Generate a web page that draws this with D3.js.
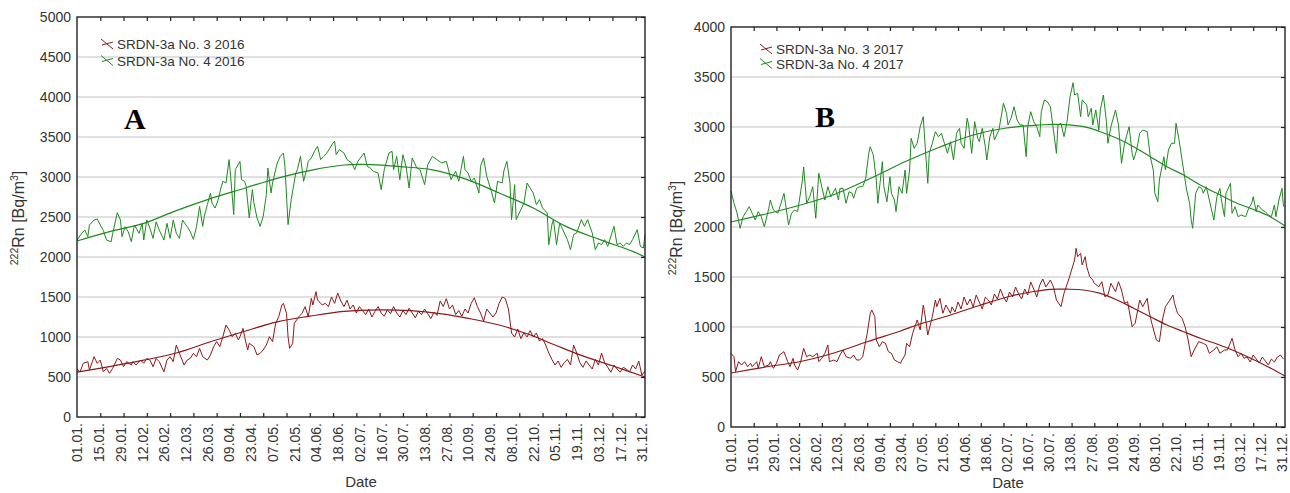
<!DOCTYPE html>
<html><head><meta charset="utf-8">
<script src="https://cdn.jsdelivr.net/npm/d3@7"></script>
<style>
body{margin:0;background:#fff;}
svg{display:block;font-family:"Liberation Sans",Arial,sans-serif;}
</style></head>
<body><svg id="c" width="1290" height="493"></svg>
<script>
// ---------- data ----------
const tickLabels = ["01.01.","15.01.","29.01.","12.02.","26.02.","12.03.","26.03.","09.04.","23.04.","07.05.","21.05.","04.06.","18.06.","02.07.","16.07.","30.07.","13.08.","27.08.","10.09.","24.09.","08.10.","22.10.","05.11.","19.11.","03.12.","17.12.","31.12."];
const tickDays = tickLabels.map((_, i) => i * 14);
const yTicksA = [0,500,1000,1500,2000,2500,3000,3500,4000,4500,5000];
const yTicksB = [0,500,1000,1500,2000,2500,3000,3500,4000];
const seriesNamesA = ["SRDN-3a No. 3 2016", "SRDN-3a No. 4 2016"];
const seriesNamesB = ["SRDN-3a No. 3 2017", "SRDN-3a No. 4 2017"];

// [day of year, Bq/m3]
const no3_2016 = [[0,600],[2,565],[4,671],[7,692],[8,587],[11,754],[13,671],[15,712],[17,565],[19,608],[21,546],[23,608],[26,733],[28,712],[30,629],[32,692],[35,650],[36,692],[38,650],[41,712],[43,671],[45,733],[47,712],[49,629],[51,733],[53,692],[56,565],[58,712],[60,754],[62,692],[64,900],[66,796],[69,650],[71,712],[73,733],[75,796],[77,754],[79,858],[81,754],[84,712],[86,775],[88,879],[90,942],[92,879],[94,1004],[96,1150],[98,1088],[100,1004],[102,1046],[104,963],[105,1004],[107,1108],[108,1004],[110,838],[111,921],[114,879],[116,775],[118,796],[120,838],[122,900],[124,1004],[126,942],[128,1171],[130,1254],[132,1400],[133,1421],[135,1296],[136,1004],[137,858],[139,921],[140,1171],[143,1254],[145,1296],[147,1379],[149,1254],[151,1483],[152,1400],[154,1567],[155,1463],[158,1400],[160,1421],[162,1379],[164,1500],[166,1420],[168,1550],[170,1450],[172,1380],[174,1460],[176,1350],[178,1400],[180,1300],[182,1380],[184,1330],[186,1280],[188,1350],[190,1250],[192,1320],[194,1380],[196,1300],[198,1260],[200,1340],[202,1290],[204,1380],[206,1300],[208,1250],[210,1330],[212,1280],[214,1360],[216,1300],[218,1240],[220,1320],[222,1280],[224,1350],[226,1290],[228,1230],[230,1310],[232,1270],[234,1450],[236,1380],[238,1480],[240,1350],[242,1400],[244,1280],[246,1330],[248,1260],[250,1350],[252,1300],[254,1420],[256,1490],[258,1380],[260,1300],[262,1200],[264,1350],[266,1300],[268,1250],[270,1300],[272,1420],[274,1500],[276,1480],[278,1350],[280,1050],[282,1000],[284,1100],[286,980],[288,1050],[290,1000],[292,1080],[294,1000],[296,1050],[298,950],[300,980],[302,900],[304,800],[306,720],[308,650],[310,700],[312,620],[314,680],[316,720],[318,650],[320,900],[322,800],[324,680],[326,620],[328,700],[330,650],[332,600],[334,720],[336,650],[338,800],[340,680],[342,620],[344,560],[346,650],[348,600],[350,560],[352,620],[354,600],[356,560],[358,650],[360,600],[362,700],[364,520],[366,580]];
const no4_2016 = [[0,2212],[3,2296],[5,2337],[7,2254],[8,2400],[11,2462],[13,2475],[15,2400],[17,2330],[19,2212],[22,2191],[23,2296],[26,2554],[28,2462],[29,2254],[31,2379],[33,2316],[35,2191],[37,2400],[40,2296],[42,2421],[43,2212],[45,2462],[47,2358],[49,2233],[51,2441],[53,2337],[56,2212],[58,2421],[60,2233],[62,2462],[64,2296],[66,2233],[68,2462],[71,2379],[73,2316],[75,2221],[77,2379],[79,2633],[81,2383],[82,2508],[84,2654],[86,2800],[87,2675],[89,2612],[91,2717],[93,2883],[94,2946],[96,2925],[98,3217],[99,3008],[101,2529],[102,3092],[105,3196],[106,2967],[108,2946],[109,2883],[111,2488],[113,2842],[114,2675],[116,2488],[118,2383],[120,2508],[122,2779],[123,3112],[125,2800],[126,2925],[129,3175],[131,3258],[133,3300],[134,3133],[136,2404],[138,2717],[141,3050],[142,3092],[144,3258],[146,2946],[148,3092],[149,3196],[151,3238],[153,3321],[155,3383],[157,3217],[159,3258],[161,3300],[163,3362],[165,3425],[166,3446],[167,3279],[169,3342],[172,3300],[174,3217],[177,3175],[179,3092],[181,3196],[185,3300],[187,3133],[189,3112],[191,3071],[194,3050],[196,2842],[198,3092],[201,3300],[203,3321],[204,3092],[206,3258],[208,2967],[210,3279],[212,3133],[214,2862],[216,3238],[219,3112],[221,3092],[224,2904],[226,3154],[229,3258],[232,3217],[235,3175],[238,3196],[241,2967],[244,3071],[246,2946],[249,3258],[250,3092],[252,3050],[254,2946],[256,2987],[259,2800],[260,3133],[262,3238],[264,3008],[267,2821],[269,2675],[271,2946],[274,2925],[275,3071],[277,3196],[279,2925],[280,2467],[281,2675],[282,2904],[283,2467],[285,2550],[288,2675],[290,2925],[292,2862],[294,2800],[296,2654],[298,2717],[300,2612],[303,2550],[304,2154],[306,2404],[307,2467],[309,2154],[311,2425],[313,2342],[316,2217],[318,2092],[320,2279],[322,2300],[325,2467],[327,2383],[329,2467],[332,2300],[334,2092],[336,2175],[338,2154],[340,2217],[342,2133],[346,2383],[348,2154],[350,2175],[352,2133],[354,2175],[356,2154],[358,2217],[361,2342],[363,2133],[365,2112],[366,2279]];
const trend3_2016 = [[0,560],[21,630],[43,710],[64,800],[86,940],[107,1065],[129,1190],[150,1260],[172,1320],[195,1340],[215,1330],[235,1290],[253,1230],[272,1150],[290,1040],[308,900],[325,770],[345,640],[366,500]];
const trend4_2016 = [[0,2200],[21,2317],[43,2420],[64,2580],[86,2730],[108,2860],[130,2990],[152,3090],[172,3150],[190,3155],[208,3130],[229,3090],[251,2970],[272,2800],[294,2612],[315,2383],[337,2217],[358,2071],[366,2000]];

const no3_2017 = [[0,737],[2,703],[3,553],[5,653],[7,620],[9,653],[11,603],[13,637],[14,603],[17,653],[18,587],[20,703],[22,603],[25,620],[26,653],[28,587],[30,637],[32,720],[35,753],[37,670],[39,603],[41,687],[42,620],[44,570],[46,653],[48,787],[50,703],[52,720],[54,703],[57,737],[58,653],[60,687],[62,737],[64,820],[65,653],[68,670],[70,653],[72,720],[74,770],[76,703],[79,687],[81,720],[83,670],[85,670],[87,703],[90,937],[92,1137],[93,1170],[95,1103],[96,870],[98,803],[100,853],[102,837],[104,753],[106,737],[108,670],[110,653],[112,637],[113,670],[115,720],[116,837],[118,803],[120,937],[123,1070],[125,970],[127,1220],[128,1137],[130,920],[133,1103],[135,1270],[136,1203],[138,1287],[140,1137],[142,1220],[145,1137],[146,1200],[148,1150],[150,1250],[152,1180],[154,1300],[156,1220],[158,1280],[160,1200],[162,1320],[164,1250],[166,1180],[168,1300],[170,1270],[172,1220],[174,1330],[176,1280],[178,1380],[180,1300],[182,1250],[184,1350],[186,1300],[188,1400],[190,1330],[192,1280],[194,1380],[196,1320],[198,1450],[200,1380],[202,1300],[204,1420],[206,1480],[208,1400],[211,1470],[213,1403],[215,1270],[218,1203],[220,1337],[223,1470],[225,1570],[227,1670],[228,1787],[229,1703],[231,1737],[232,1620],[234,1703],[235,1603],[237,1503],[239,1470],[240,1437],[243,1403],[245,1453],[247,1303],[249,1320],[251,1437],[254,1353],[256,1453],[258,1370],[260,1237],[262,1253],[265,1003],[267,1037],[270,1270],[272,1203],[275,1287],[276,1170],[278,1037],[281,870],[283,853],[285,1070],[287,1203],[290,1270],[292,1320],[293,1237],[295,1137],[298,1087],[300,1003],[302,870],[304,703],[306,770],[309,853],[312,837],[314,820],[316,737],[319,770],[321,803],[323,737],[326,770],[328,770],[331,887],[333,770],[335,703],[337,737],[339,687],[341,700],[343,650],[345,720],[347,680],[349,640],[351,700],[353,660],[355,620],[357,680],[359,650],[361,700],[363,720],[365,680]];
const no4_2017 = [[0,2360],[2,2237],[4,2140],[6,1987],[8,2103],[10,2153],[12,2203],[14,2137],[16,2070],[18,2153],[20,2103],[22,2003],[25,2187],[26,2270],[28,2170],[31,2137],[33,2237],[35,2337],[36,2237],[38,2020],[40,2137],[42,2170],[44,2153],[47,2450],[48,2600],[50,2237],[52,2303],[54,2403],[56,2087],[58,2537],[60,2400],[62,2270],[64,2403],[66,2303],[69,2387],[71,2270],[72,2387],[74,2387],[76,2237],[78,2353],[80,2337],[81,2287],[83,2387],[85,2403],[87,2403],[89,2487],[91,2737],[92,2803],[94,2720],[96,2470],[97,2237],[100,2653],[101,2403],[103,2253],[105,2503],[106,2337],[108,2270],[109,2153],[111,2403],[113,2337],[115,2570],[116,2337],[118,2570],[119,2887],[121,2787],[123,2837],[125,3003],[127,3103],[128,2870],[130,2437],[131,2737],[133,2837],[135,2953],[137,2903],[139,2937],[141,2837],[143,2737],[145,2853],[147,2670],[149,2937],[151,2987],[152,2837],[154,2787],[156,3087],[157,3020],[159,2737],[161,3053],[163,2887],[164,2853],[166,2987],[168,2803],[169,2670],[171,2903],[173,2987],[174,2870],[177,2970],[180,3237],[182,3137],[183,3020],[185,3087],[187,3203],[189,3070],[191,3020],[193,3020],[195,2703],[196,3003],[198,3153],[200,3053],[202,3003],[204,2903],[205,3153],[207,3270],[209,3253],[211,3203],[213,2970],[215,2737],[216,3020],[218,3037],[220,2903],[222,3053],[224,3303],[226,3443],[227,3320],[229,3337],[231,3103],[232,3270],[235,3220],[236,3103],[238,3187],[239,3020],[241,3170],[243,2970],[244,3170],[246,3320],[248,3053],[249,2837],[251,3003],[254,3170],[256,3020],[258,2637],[260,2837],[263,3003],[265,2737],[266,2670],[268,2770],[270,2937],[272,2970],[275,2953],[277,2703],[279,2570],[280,2337],[282,2253],[283,2470],[286,2703],[287,2570],[289,2770],[291,2837],[293,2837],[294,3037],[296,2870],[298,2670],[299,2570],[301,2370],[303,2237],[304,2070],[305,1987],[307,2337],[309,2403],[311,2387],[312,2337],[314,2403],[316,2270],[319,2070],[321,2303],[323,2387],[324,2270],[326,2103],[327,2337],[330,2437],[331,2137],[333,2203],[335,2103],[337,2120],[340,2103],[342,2187],[344,2237],[345,2303],[347,2153],[348,2220],[351,2170],[353,2153],[355,2120],[357,2103],[359,2220],[360,2103],[362,2270],[364,2387],[365,2203]];
const trend3_2017 = [[0,540],[23,600],[46,655],[68,740],[90,853],[112,960],[123,1020],[145,1120],[165,1220],[185,1310],[200,1355],[211,1377],[222,1378],[233,1370],[244,1337],[255,1270],[266,1187],[277,1103],[288,1020],[299,953],[310,887],[321,830],[332,765],[343,690],[355,600],[366,510]];
const trend4_2017 = [[0,2050],[23,2130],[46,2220],[69,2330],[94,2500],[116,2660],[138,2800],[160,2920],[182,2990],[204,3020],[215,3027],[233,3003],[244,2953],[255,2887],[266,2803],[277,2703],[288,2603],[299,2520],[310,2420],[321,2337],[332,2253],[343,2187],[354,2120],[366,2010]];

// ---------- drawing ----------
const RED = "#8b1a1a", GREEN = "#1f8a1f";
const svg = d3.select("#c");
const FONT = "'Liberation Sans', Arial, sans-serif";

function panel(o) {
  const x = d3.scaleLinear().domain([0, 366]).range([o.left, o.right]);
  const y = d3.scaleLinear().domain([0, o.ymax]).range([o.bottom, o.top]);
  const g = svg.append("g");

  // grid
  g.append("g").selectAll("line").data(o.yTicks.filter(v => v > 0 && v < o.ymax)).join("line")
    .attr("x1", o.left).attr("x2", o.right).attr("y1", d => y(d)).attr("y2", d => y(d))
    .attr("stroke", "#d6d6d6").attr("stroke-width", 1.3);

  const line = d3.line().x(d => x(d[0])).y(d => y(d[1]));
  const smooth = d3.line().curve(d3.curveCatmullRom).x(d => x(d[0])).y(d => y(d[1]));

  g.append("path").datum(o.s3).attr("d", line).attr("fill", "none").attr("stroke", RED).attr("stroke-width", 1).attr("stroke-linejoin", "round");
  g.append("path").datum(o.s4).attr("d", line).attr("fill", "none").attr("stroke", GREEN).attr("stroke-width", 1).attr("stroke-linejoin", "round");
  g.append("path").datum(o.t3).attr("d", smooth).attr("fill", "none").attr("stroke", RED).attr("stroke-width", 1.2);
  g.append("path").datum(o.t4).attr("d", smooth).attr("fill", "none").attr("stroke", GREEN).attr("stroke-width", 1.2);

  // frame
  g.append("rect").attr("x", o.left).attr("y", o.top).attr("width", o.right - o.left).attr("height", o.bottom - o.top)
    .attr("fill", "none").attr("stroke", "#222").attr("stroke-width", 1.4);

  // y axis labels
  const ya = g.append("g").attr("transform", `translate(${o.left},0)`)
    .call(d3.axisLeft(y).tickValues(o.yTicks).tickSize(0).tickPadding(6).tickFormat(d3.format("d")));
  ya.select(".domain").remove();
  ya.selectAll("text").attr("font-family", FONT).attr("font-size", 14).attr("fill", "#333");

  // right inner ticks
  const yr = g.append("g").attr("transform", `translate(${o.right},0)`)
    .call(d3.axisRight(y).tickValues(o.yTicks).tickSize(-4).tickFormat(""));
  yr.select(".domain").remove();
  yr.selectAll("line").attr("stroke", "#222").attr("stroke-width", 1.2);

  // top / bottom inner ticks every 15 days
  const minor = d3.range(15, 366, 15);
  const xt = g.append("g").attr("transform", `translate(0,${o.top})`)
    .call(d3.axisTop(x).tickValues(minor).tickSize(-4).tickFormat(""));
  xt.select(".domain").remove();
  xt.selectAll("line").attr("stroke", "#222").attr("stroke-width", 1.2);
  const xb = g.append("g").attr("transform", `translate(0,${o.bottom})`)
    .call(d3.axisBottom(x).tickValues(minor).tickSize(-4).tickFormat(""));
  xb.select(".domain").remove();
  xb.selectAll("line").attr("stroke", "#222").attr("stroke-width", 1.2);

  // x tick labels
  const xl = g.append("g").attr("transform", `translate(0,${o.bottom})`)
    .call(d3.axisBottom(x).tickValues(tickDays).tickSize(0).tickFormat((d, i) => tickLabels[i]));
  xl.select(".domain").remove();
  xl.selectAll("text").attr("font-family", FONT).attr("font-size", 14).attr("fill", "#333")
    .attr("transform", "rotate(-90)").attr("text-anchor", "end")
    .attr("x", -6).attr("y", 0).attr("dy", "0.35em");

  // x title
  g.append("text").attr("x", (o.left + o.right) / 2).attr("y", o.dateY).attr("text-anchor", "middle")
    .attr("font-family", FONT).attr("font-size", 15).attr("fill", "#333").text("Date");

  // y title
  const yt = g.append("text").attr("transform", `translate(${o.ylabX},${o.ylabY}) rotate(-90)`)
    .attr("text-anchor", "middle").attr("font-family", FONT).attr("font-size", 16).attr("fill", "#333");
  yt.append("tspan").attr("font-size", 10.5).attr("dy", -6).text("222");
  yt.append("tspan").attr("dy", 6).text("Rn [Bq/m");
  yt.append("tspan").attr("font-size", 10.5).attr("dy", -6).text("3");
  yt.append("tspan").attr("dy", 6).text("]");

  // legend
  o.names.forEach((nm, i) => {
    const ly = o.legY + i * o.legGap;
    const col = i === 0 ? RED : GREEN;
    g.append("line").attr("x1", o.legX).attr("y1", ly - 5).attr("x2", o.legX + 12).attr("y2", ly + 5)
      .attr("stroke", col).attr("stroke-width", 1);
    g.append("line").attr("x1", o.legX + 1).attr("y1", ly + 1).attr("x2", o.legX + 12).attr("y2", ly - 2)
      .attr("stroke", col).attr("stroke-width", 1);
    g.append("text").attr("x", o.legX + 16).attr("y", ly + 5).attr("font-family", FONT).attr("font-size", 13.5)
      .attr("fill", "#333").text(nm);
  });

  // panel letter
  g.append("text").attr("x", o.letX).attr("y", o.letY).attr("font-family", "'Liberation Serif','Times New Roman',serif")
    .attr("font-weight", "bold").attr("font-size", 30).attr("fill", "#000").text(o.letter);
}

panel({left: 77, right: 645, top: 17, bottom: 417, ymax: 5000, yTicks: yTicksA,
  s3: no3_2016, s4: no4_2016, t3: trend3_2016, t4: trend4_2016, names: seriesNamesA,
  dateY: 487, ylabX: 24, ylabY: 218, legX: 101, legY: 44, legGap: 16.5, letter: "A", letX: 124, letY: 129});
panel({left: 731, right: 1285, top: 27, bottom: 427, ymax: 4000, yTicks: yTicksB,
  s3: no3_2017, s4: no4_2017, t3: trend3_2017, t4: trend4_2017, names: seriesNamesB,
  dateY: 488, ylabX: 682, ylabY: 228, legX: 760, legY: 49, legGap: 14.5, letter: "B", letX: 815, letY: 127});
</script></body></html>
